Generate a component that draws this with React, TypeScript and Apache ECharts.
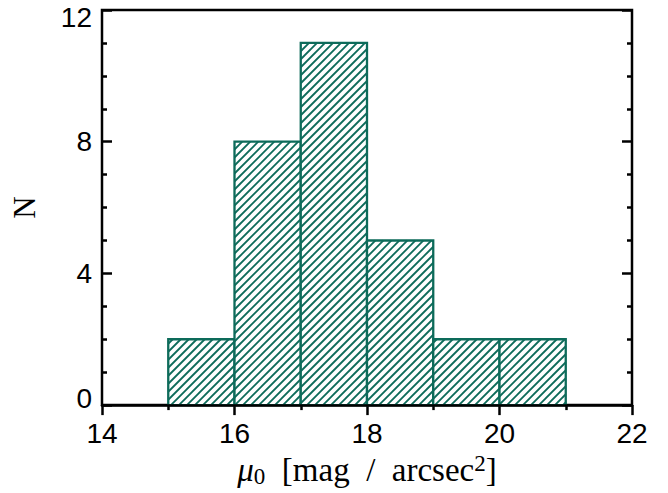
import React, { useEffect, useRef } from "react";
import * as echarts from "echarts";

const binStarts = [15, 16, 17, 18, 19, 20];
const binEnds = [16, 17, 18, 19, 20, 21];
const counts = [2, 8, 11, 5, 2, 2];
const xMin = 14, xMax = 22, xStep = 2;
const yMin = 0, yMax = 12, yStep = 4;

const TEAL = "#0d6b5a";
const HATCH = 8;

export default function App() {
  const ref = useRef<HTMLDivElement>(null);
  useEffect(() => {
    if (!ref.current) return;
    const chart = echarts.init(ref.current, null, { renderer: "svg" });
    const data = binStarts.map((s, i) => [s, binEnds[i], counts[i]]);
    const tickStyle = { color: "#000", width: 2.5 };
    const labelFont = { fontFamily: "Liberation Sans", fontSize: 28, color: "#000" };
    chart.setOption({
      animation: false,
      backgroundColor: "#fff",
      grid: { left: 102, width: 530, top: 10, height: 400, show: true, borderColor: "#000", borderWidth: 2.5, backgroundColor: "transparent" },
      xAxis: [
        {
          type: "value", position: "bottom", min: xMin, max: xMax, interval: xStep, z: 3,
          axisLine: { show: true, onZero: false, lineStyle: tickStyle },
          axisTick: { show: false }, splitLine: { show: false },
          axisLabel: { ...labelFont, margin: 14 },
          name: "{mu|μ}{sub|0}  [mag  /  arcsec{sup|2}]",
          nameLocation: "middle", nameGap: 46,
          nameTextStyle: {
            fontFamily: "Liberation Serif", fontSize: 33, color: "#000",
            rich: {
              mu: { fontFamily: "Liberation Serif", fontStyle: "italic", fontSize: 33, color: "#000" },
              sub: { fontFamily: "Liberation Serif", fontSize: 23, color: "#000", verticalAlign: "bottom", padding: [13, 0, 0, 0] },
              sup: { fontFamily: "Liberation Serif", fontSize: 23, color: "#000", verticalAlign: "top", padding: [0, 0, 13, 0] },
            },
          },
        },
        {
          type: "value", position: "top", min: xMin, max: xMax, interval: xStep,
          axisLine: { show: false }, axisLabel: { show: false }, splitLine: { show: false },
          axisTick: { show: true, inside: true, length: 10, lineStyle: tickStyle },
          minorTick: { show: true, splitNumber: 2, length: 5, lineStyle: tickStyle },
        },
      ],
      yAxis: [
        {
          type: "value", position: "left", min: yMin, max: yMax, interval: yStep,
          axisLine: { show: false }, splitLine: { show: false },
          axisTick: { show: true, inside: true, length: 10, lineStyle: tickStyle },
          minorTick: { show: true, splitNumber: 4, length: 5, lineStyle: tickStyle },
          axisLabel: { ...labelFont, margin: 10, lineHeight: 14, verticalAlignMaxLabel: "top", verticalAlignMinLabel: "bottom" },
          name: "N", nameLocation: "middle", nameGap: 62, nameRotate: 90,
          nameTextStyle: { fontFamily: "Liberation Serif", fontSize: 31, color: "#000", padding: [0, 0, 0, 0] },
        },
        {
          type: "value", position: "right", min: yMin, max: yMax, interval: yStep,
          axisLine: { show: false }, splitLine: { show: false }, axisLabel: { show: false },
          axisTick: { show: true, inside: true, length: 10, lineStyle: tickStyle },
          minorTick: { show: true, splitNumber: 4, length: 5, lineStyle: tickStyle },
        },
      ],
      series: [
        {
          type: "custom",
          xAxisIndex: 0, yAxisIndex: 0,
          data,
          renderItem: (params: any, api: any) => {
            const p0 = api.coord([api.value(0), api.value(2)]);
            const p1 = api.coord([api.value(1), 0]);
            const left = p0[0], top = p0[1], right = p1[0], bottom = p1[1];
            const children: any[] = [
              { type: "rect", shape: { x: left, y: top, width: right - left, height: bottom - top }, style: { fill: "#fff" } },
            ];
            let c = Math.ceil((left + top) / HATCH) * HATCH;
            for (; c <= right + bottom; c += HATCH) {
              const xa = Math.max(left, c - bottom);
              const xb = Math.min(right, c - top);
              if (xb > xa) {
                children.push({
                  type: "line",
                  shape: { x1: xa, y1: c - xa, x2: xb, y2: c - xb },
                  style: { stroke: TEAL, lineWidth: 1.8 },
                });
              }
            }
            children.push({
              type: "rect", shape: { x: left, y: top, width: right - left, height: bottom - top },
              style: { fill: "none", stroke: TEAL, lineWidth: 2.3 },
            });
            return { type: "group", children };
          },
        },
      ],
    });
    return () => chart.dispose();
  }, []);
  return <div ref={ref} style={{ position: "absolute", left: 0, top: 0, width: 668, height: 493 }} />;
}
